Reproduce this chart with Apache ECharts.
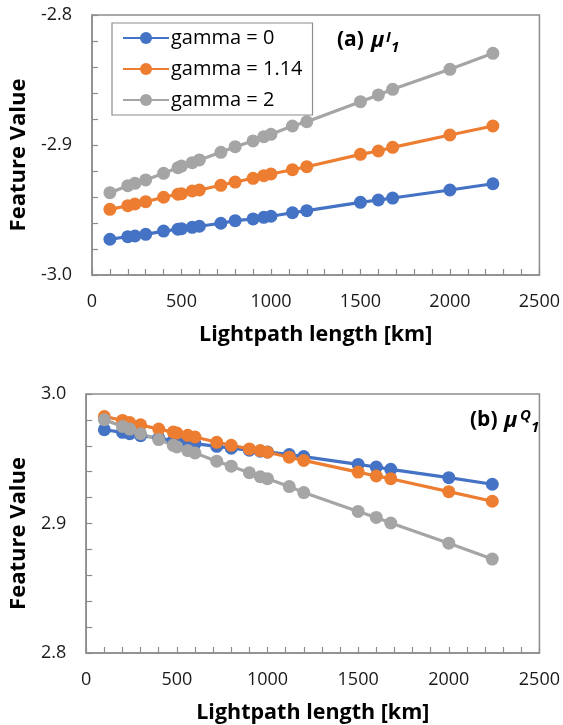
<!DOCTYPE html>
<html>
<head>
<meta charset="utf-8">
<script src="https://cdn.jsdelivr.net/npm/echarts@6/dist/echarts.min.js"></script>
<style>
html,body{margin:0;padding:0;background:#fff;}
#c{width:563px;height:725px;}
</style>
</head>
<body>
<div id="c"></div>
<script>
var lengths = [100,200,240,300,400,480,500,560,600,720,800,900,960,1000,1120,1200,1500,1600,1680,2000,2240];
var seriesNames = ['gamma = 0','gamma = 1.14','gamma = 2'];
var colors = ['#4472C4','#ED7D31','#A5A5A5'];

var muI_g0   = [-2.9725,-2.9705,-2.9700,-2.9687,-2.9662,-2.9648,-2.9644,-2.9633,-2.9625,-2.9602,-2.9582,-2.9569,-2.9556,-2.9548,-2.9521,-2.9505,-2.9441,-2.9423,-2.9408,-2.9346,-2.9298];
var muI_g114 = [-2.9495,-2.9467,-2.9454,-2.9436,-2.9402,-2.9379,-2.9375,-2.9354,-2.9346,-2.9310,-2.9285,-2.9256,-2.9236,-2.9223,-2.9190,-2.9167,-2.9072,-2.9046,-2.9018,-2.8923,-2.8854];
var muI_g2   = [-2.9367,-2.9313,-2.9295,-2.9269,-2.9218,-2.9175,-2.9162,-2.9136,-2.9115,-2.9056,-2.9013,-2.8969,-2.8936,-2.8918,-2.8854,-2.8821,-2.8667,-2.8615,-2.8572,-2.8418,-2.8295];

var muQ_g0   = [2.9724,2.9704,2.9693,2.9678,2.9660,2.9640,2.9635,2.9625,2.9617,2.9596,2.9581,2.9566,2.9558,2.9553,2.9533,2.9517,2.9456,2.9436,2.9418,2.9354,2.9303];
var muQ_g114 = [2.9826,2.9796,2.9780,2.9762,2.9729,2.9706,2.9699,2.9681,2.9668,2.9627,2.9604,2.9576,2.9563,2.9550,2.9512,2.9487,2.9397,2.9367,2.9346,2.9246,2.9172];
var muQ_g2   = [2.9801,2.9750,2.9729,2.9693,2.9648,2.9604,2.9591,2.9563,2.9545,2.9481,2.9443,2.9392,2.9361,2.9346,2.9285,2.9239,2.9093,2.9047,2.9004,2.8848,2.8725];

var xTicks = {min:0, max:2500, interval:500};
var yTopTicks = {min:-3.0, max:-2.8, interval:0.1};
var yBotTicks = {min:2.8, max:3.0, interval:0.1};

var FONT = 'Open Sans';
var axisGray = '#8c8c8c';

function pair(ys){ return lengths.map(function(x,i){ return [x, ys[i]]; }); }

function mkX(gi){
  return {
    gridIndex: gi, type:'value', min:xTicks.min, max:xTicks.max, interval:xTicks.interval,
    axisLine:{show:true, lineStyle:{color:axisGray, width:1.5}},
    axisTick:{show:true, inside:true, length:6, lineStyle:{color:axisGray, width:1.2}},
    minorTick:{show:true, splitNumber:5, length:6, lineStyle:{color:axisGray, width:1.2}},
    splitLine:{show:false},
    axisLabel:{fontFamily:FONT, fontSize:18, color:'#1a1a1a', margin:18,
      formatter:function(v){ return String(v); }},
    name:'Lightpath length [km]', nameLocation:'middle', nameGap:49,
    nameTextStyle:{fontFamily:FONT, fontSize:21.5, fontWeight:'bold', color:'#000'}
  };
}
function mkY(gi, t, gap){
  return {
    gridIndex: gi, type:'value', min:t.min, max:t.max, interval:t.interval,
    axisLine:{show:true, lineStyle:{color:axisGray, width:1.5}},
    axisTick:{show:true, inside:true, length:6, lineStyle:{color:axisGray, width:1.2}},
    minorTick:{show:true, splitNumber:5, length:6, lineStyle:{color:axisGray, width:1.2}},
    splitLine:{show:false},
    axisLabel:{fontFamily:FONT, fontSize:18, color:'#1a1a1a', margin:20,
      formatter:function(v){ return v.toFixed(1); }},
    name:'Feature Value', nameLocation:'middle', nameGap:gap,
    nameTextStyle:{fontFamily:FONT, fontSize:22, fontWeight:'bold', color:'#000', padding:[0,20,0,0]}
  };
}
function mkS(name, ys, ci, gi){
  return {
    name:name, type:'line', xAxisIndex:gi, yAxisIndex:gi, data:pair(ys),
    symbol:'circle', symbolSize:13, showSymbol:true,
    lineStyle:{color:colors[ci], width:3.2}, itemStyle:{color:colors[ci]},
    animation:false
  };
}

var chart = echarts.init(document.getElementById('c'), null, {renderer:'canvas'});
chart.setOption({
  backgroundColor:'#fff',
  animation:false,
  grid:[
    {left:92, top:15, width:448, height:260, show:true, borderColor:axisGray, borderWidth:1.5},
    {left:83, top:394, width:460, height:261, show:true, borderColor:axisGray, borderWidth:1.5}
  ],
  legend:{
    data:seriesNames, orient:'vertical', left:112, top:23,
    padding:[5,10,5,10], itemGap:11, itemWidth:46, itemHeight:15,
    borderColor:axisGray, borderWidth:1.2, backgroundColor:'#fff',
    textStyle:{fontFamily:FONT, fontSize:20, color:'#000', padding:[0,0,0,-3]}
  },
  xAxis:[mkX(0), mkX(1)],
  yAxis:[mkY(0, yTopTicks, 53), mkY(1, yBotTicks, 47)],
  series:[
    mkS(seriesNames[0], muI_g0, 0, 0),
    mkS(seriesNames[1], muI_g114, 1, 0),
    mkS(seriesNames[2], muI_g2, 2, 0),
    mkS(seriesNames[0], muQ_g0, 0, 1),
    mkS(seriesNames[1], muQ_g114, 1, 1),
    mkS(seriesNames[2], muQ_g2, 2, 1)
  ],
  graphic:[
    {type:'text', left:337, top:30, style:{text:'(a)', font:'bold 21px "Open Sans"', fill:'#000'}},
    {type:'text', left:371, top:30, style:{text:'μ', font:'italic bold 22px "Open Sans"', fill:'#000'}},
    {type:'text', left:386, top:30, style:{text:'I', font:'italic bold 15px "Open Sans"', fill:'#000'}},
    {type:'text', left:391, top:40, style:{text:'1', font:'italic bold 15px "Open Sans"', fill:'#000'}},
    {type:'text', left:470, top:410, style:{text:'(b)', font:'bold 21px "Open Sans"', fill:'#000'}},
    {type:'text', left:504, top:410, style:{text:'μ', font:'italic bold 22px "Open Sans"', fill:'#000'}},
    {type:'text', left:520, top:408, style:{text:'Q', font:'italic bold 15px "Open Sans"', fill:'#000'}},
    {type:'text', left:531, top:420, style:{text:'1', font:'italic bold 15px "Open Sans"', fill:'#000'}}
  ]
});
</script>
</body>
</html>
